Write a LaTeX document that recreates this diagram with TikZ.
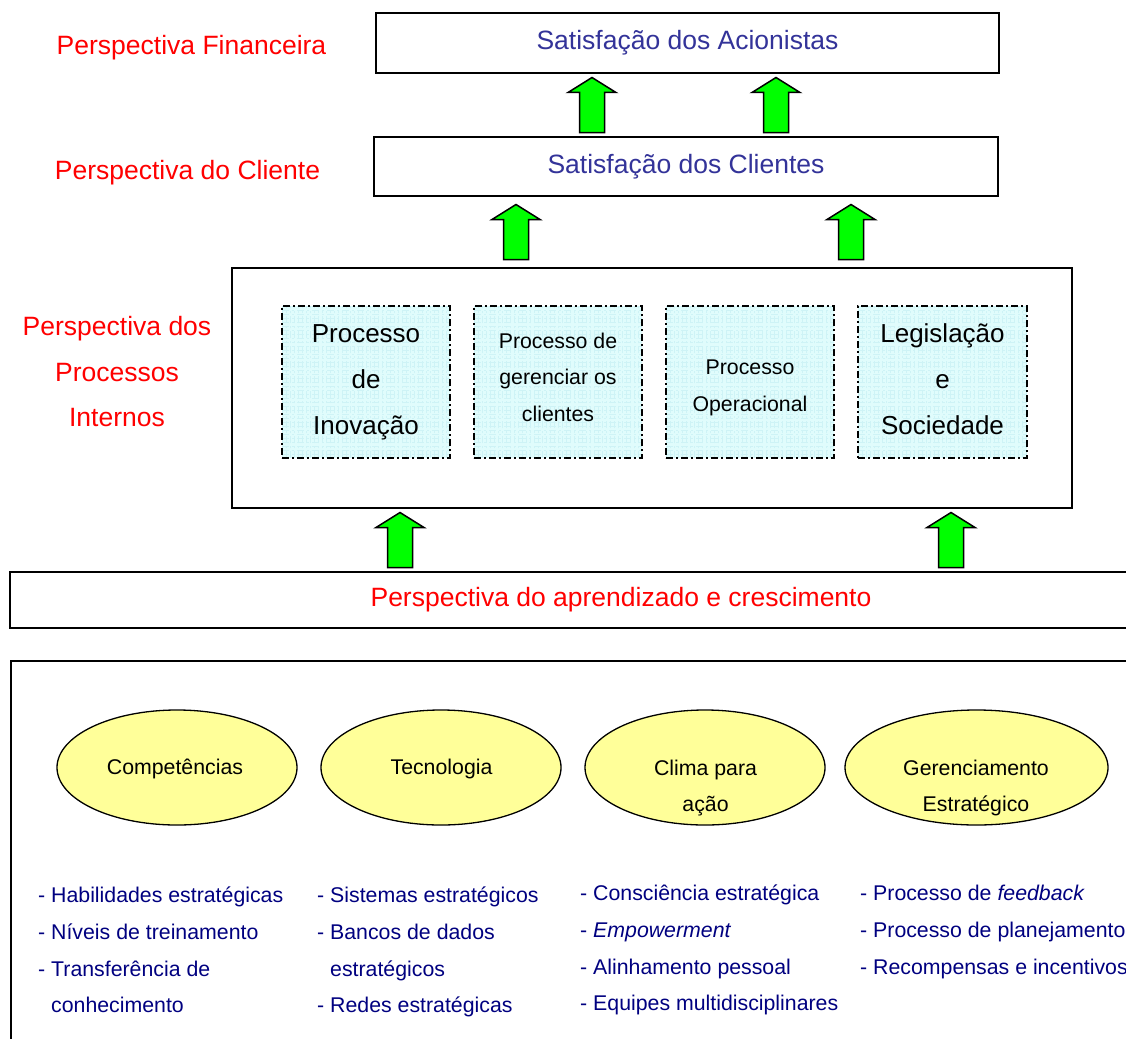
\documentclass[tikz,border=0pt]{standalone}
\usepackage{fontspec}
\setmainfont{Liberation Sans}
\usetikzlibrary{calc,shapes.geometric}

\definecolor{titleblue}{RGB}{51,51,153}
\definecolor{listblue}{RGB}{0,0,128}
\definecolor{perspred}{RGB}{255,0,0}
\definecolor{cellfill}{RGB}{224,252,252}
\definecolor{cellgrid}{RGB}{206,243,246}
\definecolor{ellfill}{RGB}{255,255,153}
\definecolor{arrowgreen}{RGB}{0,255,0}

\tikzset{
  box/.style={draw=black, line width=1.6pt, fill=white, inner sep=0pt},
  titletext/.style={text=titleblue, font=\fontsize{26.5}{30}\selectfont},
  persplabel/.style={text=perspred, font=\fontsize{26.5}{45.5}\selectfont, align=center, inner sep=0pt},
  cell/.style={draw=black, line width=1.5pt, dash pattern=on 7pt off 3pt on 2pt off 3pt,
    fill=cellfill, minimum width=168pt, minimum height=152pt, inner sep=0pt,
    path picture={\draw[cellgrid, line width=0.3pt] (path picture bounding box.south west)
      grid[step=4pt] (path picture bounding box.north east);}},
  celltext/.style={align=center, inner sep=0pt},
  bigtext/.style={celltext, font=\fontsize{26}{46}\selectfont},
  smalltext/.style={celltext, font=\fontsize{21.3}{36.5}\selectfont},
  goal/.style={ellipse, draw=black, line width=1.3pt, fill=ellfill, inner sep=0pt},
  goaltext/.style={font=\fontsize{21.3}{36}\selectfont, align=center, inner sep=0pt},
  itemlist/.style={text=listblue, font=\fontsize{21.3}{36.7}\selectfont, align=left,
    anchor=north west, inner sep=0pt},
  blockarrow/.style={draw=black, line width=1.5pt, fill=arrowgreen, line join=miter},
}

% upward block arrow at x = #1, centred in the gap between node #2 (below) and node #3 (above)
\newcommand\greenup[3]{%
  \draw[blockarrow] let \p1=(#2.north), \p2=(#3.south) in
    ({#1pt-12.5pt},{(\y1+\y2)/2-27.5pt}) -- ({#1pt+12.5pt},{(\y1+\y2)/2-27.5pt})
    -- ({#1pt+12.5pt},{(\y1+\y2)/2+12.5pt}) -- ({#1pt+24pt},{(\y1+\y2)/2+12.5pt})
    -- ({#1pt},{(\y1+\y2)/2+27.5pt}) -- ({#1pt-24pt},{(\y1+\y2)/2+12.5pt})
    -- ({#1pt-12.5pt},{(\y1+\y2)/2+12.5pt}) -- cycle;}

\begin{document}
\begin{tikzpicture}[x=1pt, y=-1pt]
\useasboundingbox (0,0) rectangle (1126,1038);
\clip (0,0) rectangle (1126,1038);

% perspective boxes
\node[box, titletext, minimum width=623, minimum height=60] (fin) at (687.5,43) {Satisfação dos Acionistas};
\node[box, titletext, minimum width=624, minimum height=59] (cli) at (686,166.5) {Satisfação dos Clientes};
\node[box, minimum width=840, minimum height=240] (proc) at (652,388) {};
\node[box, text=perspred, font=\fontsize{26.5}{30}\selectfont, minimum width=1222, minimum height=56]
  (learn) at (621,600) {Perspectiva do aprendizado e crescimento};
\node[box, minimum width=1240, minimum height=420, anchor=north west] (grow) at (10,660) {};

% perspective labels
\node[persplabel] (lfin) at (191.5,48) {Perspectiva Financeira};
\node[persplabel] (lcli) at (187.5,173) {Perspectiva do Cliente};
\node[persplabel] (lproc) at (117,372) {Perspectiva dos\\Processos\\Internos};

% internal processes
\node[cell] (inov) at (366,382) {};
\node[cell] (ger) at (558,382) {};
\node[cell] (oper) at (750,382) {};
\node[cell, minimum width=169pt] (leg) at (942.5,382) {};
\node[bigtext] (inovt) at (366,382) {Processo\\de\\Inovação};
\node[smalltext] (gert) at (558,377) {Processo de\\gerenciar os\\clientes};
\node[smalltext] (opert) at (750,388) {Processo\\Operacional};
\node[bigtext] (legt) at (942.5,379) {Legislação\\e\\Sociedade};

% arrows between perspectives
\greenup{592}{cli}{fin}
\greenup{776}{cli}{fin}
\greenup{516}{proc}{cli}
\greenup{851}{proc}{cli}
\greenup{400}{learn}{proc}
\greenup{951}{learn}{proc}

% learning and growth components
\node[goal, minimum width=240, minimum height=115] (g1) at (177,767.5) {};
\node[goal, minimum width=240, minimum height=115] (g2) at (441,767.5) {};
\node[goal, minimum width=240, minimum height=115] (g3) at (705,767.5) {};
\node[goal, minimum width=263, minimum height=115] (g4) at (976.5,767.5) {};
\node[goaltext] (t1) at (175,769) {Competências};
\node[goaltext] (t2) at (441.5,769) {Tecnologia};
\node[goaltext] (t3) at (705.5,788) {Clima para\\ação};
\node[goaltext] (t4) at (976,788) {Gerenciamento\\Estratégico};

% item lists
\node[itemlist] (l1) at (38,887) {- Habilidades estratégicas\\- Níveis de treinamento\\- Transferência de\\\hphantom{- }conhecimento};
\node[itemlist] (l2) at (317,887) {- Sistemas estratégicos\\- Bancos de dados\\\hphantom{- }estratégicos\\- Redes estratégicas};
\node[itemlist] (l3) at (580,885) {- Consciência estratégica\\- \textit{Empowerment}\\- Alinhamento pessoal\\- Equipes multidisciplinares};
\node[itemlist] (l4) at (860,885) {- Processo de \textit{feedback}\\- Processo de planejamento\\- Recompensas e incentivos};
\end{tikzpicture}
\end{document}
